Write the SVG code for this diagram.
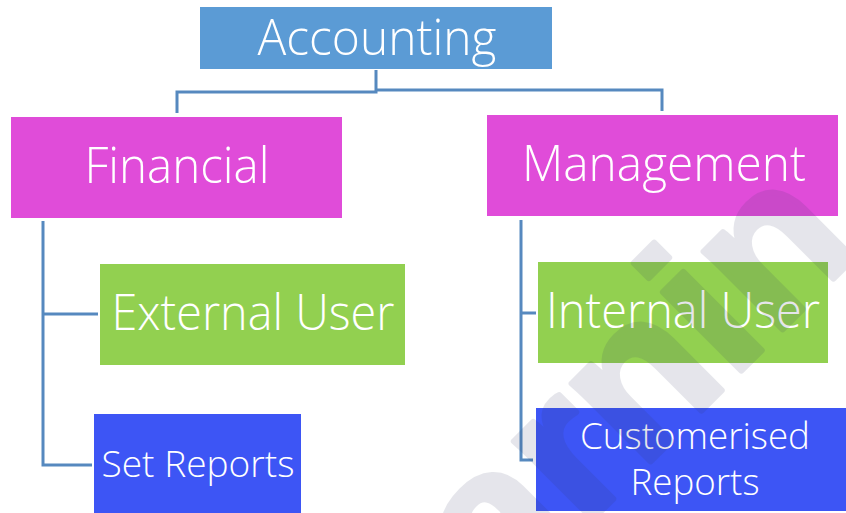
<svg xmlns="http://www.w3.org/2000/svg" width="846" height="513" viewBox="0 0 846 513">
  <style>
    .lbl { font-family: "Open Sans", "Liberation Sans", sans-serif; font-weight: 300; fill: #ffffff; }
    .big { font-size: 49px; }
    .small { font-size: 37px; }
    .conn { fill: none; stroke: #5689bf; stroke-width: 3; }
    .mark { font-family: "Liberation Sans", "DejaVu Sans", sans-serif; font-weight: bold; font-size: 210px; fill: #303660; stroke: #303660; stroke-width: 6; stroke-linejoin: round; }
  </style>
  <rect width="846" height="513" fill="#ffffff"/>

  <g id="connectors">
    <polyline class="conn" points="376,70 376,92 177,92 177,113"/>
    <polyline class="conn" points="376,90 662,90 662,111"/>
    <polyline class="conn" points="43,221 43,465 92,465"/>
    <line class="conn" x1="43" y1="314" x2="98" y2="314"/>
    <polyline class="conn" points="521,220 521,460 533,460"/>
    <line class="conn" x1="521" y1="313" x2="536" y2="313"/>
  </g>

  <g id="accounting">
    <rect x="200" y="7" width="352" height="62" fill="#5b9bd5"/>
    <text class="lbl big" x="377" y="55" text-anchor="middle" textLength="239" lengthAdjust="spacingAndGlyphs">Accounting</text>
  </g>

  <g id="financial">
    <rect x="11" y="117" width="331" height="101" fill="#e04cd9"/>
    <text class="lbl big" x="177" y="183" text-anchor="middle" textLength="185" lengthAdjust="spacingAndGlyphs">Financial</text>
  </g>

  <g id="management">
    <rect x="487" y="115" width="351" height="101" fill="#e04cd9"/>
    <text class="lbl big" x="664" y="181" text-anchor="middle" textLength="284" lengthAdjust="spacingAndGlyphs">Management</text>
  </g>

  <g id="external-user">
    <rect x="100" y="264" width="305" height="101" fill="#92d050"/>
    <text class="lbl big" x="253" y="330" text-anchor="middle" textLength="283" lengthAdjust="spacingAndGlyphs">External User</text>
  </g>

  <g id="set-reports">
    <rect x="94" y="414" width="207" height="99" fill="#3d55f5"/>
    <text class="lbl small" x="198" y="477" text-anchor="middle" textLength="193" lengthAdjust="spacingAndGlyphs">Set Reports</text>
  </g>

  <g id="internal-user">
    <rect x="538" y="262" width="290" height="101" fill="#92d050"/>
    <text class="lbl big" x="683" y="328" text-anchor="middle" textLength="274" lengthAdjust="spacingAndGlyphs">Internal User</text>
  </g>

  <g id="customised-reports">
    <rect x="536" y="408" width="310" height="103" fill="#3d55f5"/>
    <text class="lbl small" x="695" y="449" text-anchor="middle" textLength="230" lengthAdjust="spacingAndGlyphs">Customerised</text>
    <text class="lbl small" x="695" y="495" text-anchor="middle" textLength="129" lengthAdjust="spacingAndGlyphs">Reports</text>
  </g>

  <!-- faint diagonal watermark lettering over the lower right -->
  <g opacity="0.12">
    <text class="mark" transform="translate(500,612) rotate(-45)">arnin</text>
  </g>
</svg>
